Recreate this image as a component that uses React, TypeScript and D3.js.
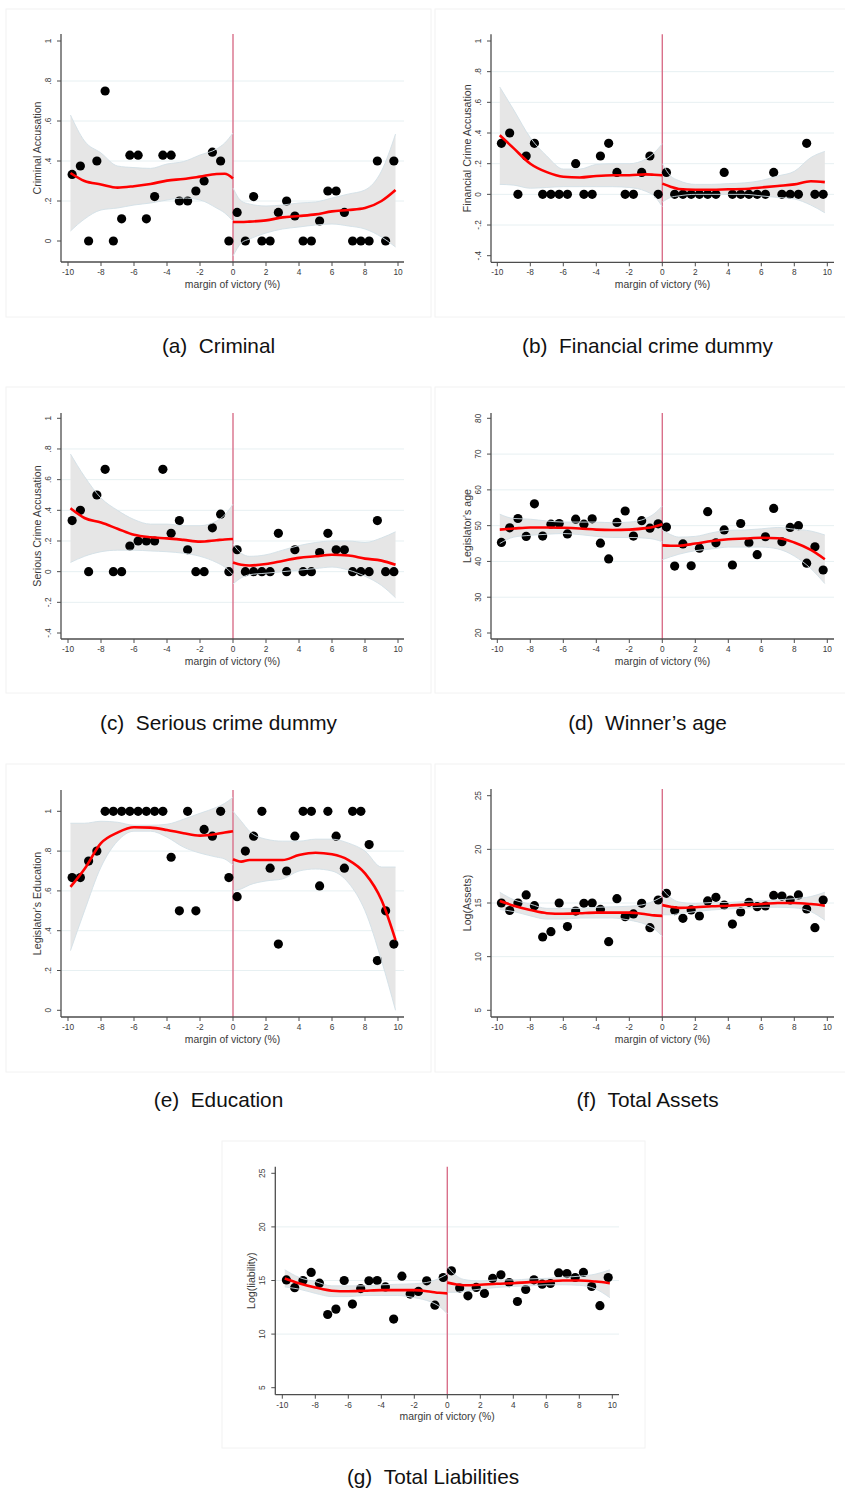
import React from "react";
import * as d3 from "d3";

// ---------- data ----------
const binX = [
  -9.75, -9.25, -8.75, -8.25, -7.75, -7.25, -6.75, -6.25, -5.75, -5.25,
  -4.75, -4.25, -3.75, -3.25, -2.75, -2.25, -1.75, -1.25, -0.75, -0.25,
  0.25, 0.75, 1.25, 1.75, 2.25, 2.75, 3.25, 3.75, 4.25, 4.75,
  5.25, 5.75, 6.25, 6.75, 7.25, 7.75, 8.25, 8.75, 9.25, 9.75,
];
const fitXLeft = [-9.85, -9, -8, -7, -6, -5, -4, -3, -2, -1, -0.5, 0];
const fitXRight = [0, 0.5, 1, 2, 3, 4, 5, 6, 7, 8, 9, 9.85];
const xTicks = [-10, -8, -6, -4, -2, 0, 2, 4, 6, 8, 10];
const xTickLabels = ["-10", "-8", "-6", "-4", "-2", "0", "2", "4", "6", "8", "10"];

// (a) Criminal
const criminalPts = [
  0.333, 0.375, 0, 0.4, 0.75, 0, 0.111, 0.429, 0.429, 0.111,
  0.222, 0.429, 0.429, 0.2, 0.2, 0.25, 0.3, 0.444, 0.4, 0,
  0.143, 0, 0.222, 0, 0, 0.143, 0.2, 0.125, 0, 0,
  0.1, 0.25, 0.25, 0.143, 0, 0, 0, 0.4, 0, 0.4,
];
const criminalFitL = [0.34, 0.3, 0.283, 0.267, 0.274, 0.285, 0.302, 0.31, 0.322, 0.335, 0.336, 0.313];
const criminalHiL = [0.63, 0.5, 0.44, 0.375, 0.367, 0.363, 0.385, 0.397, 0.43, 0.46, 0.49, 0.54];
const criminalLoL = [0.05, 0.11, 0.155, 0.165, 0.18, 0.19, 0.205, 0.215, 0.205, 0.165, 0.14, 0.1];
const criminalFitR = [0.095, 0.095, 0.097, 0.103, 0.118, 0.125, 0.133, 0.148, 0.155, 0.165, 0.2, 0.255];
const criminalHiR = [0.265, 0.2, 0.185, 0.175, 0.18, 0.19, 0.195, 0.215, 0.235, 0.255, 0.35, 0.535];
const criminalLoR = [-0.075, -0.01, 0.01, 0.04, 0.06, 0.07, 0.08, 0.085, 0.075, 0.06, 0.02, -0.03];

// (b) Financial crime
const financialPts = [
  0.333, 0.4, 0, 0.25, 0.333, 0, 0, 0, 0, 0.2,
  0, 0, 0.25, 0.333, 0.143, 0, 0, 0.143, 0.25, 0,
  0.143, 0, 0, 0, 0, 0, 0, 0.143, 0, 0,
  0, 0, 0, 0.143, 0, 0, 0, 0.333, 0, 0,
];
const financialFitL = [0.385, 0.3, 0.2, 0.145, 0.115, 0.11, 0.12, 0.125, 0.125, 0.13, 0.128, 0.125];
const financialHiL = [0.7, 0.55, 0.37, 0.25, 0.165, 0.165, 0.195, 0.2, 0.2, 0.23, 0.27, 0.33];
const financialLoL = [0.065, 0.06, 0.04, 0.045, 0.05, 0.05, 0.05, 0.05, 0.045, 0.02, -0.01, -0.08];
const financialFitR = [0.07, 0.05, 0.035, 0.03, 0.03, 0.033, 0.035, 0.045, 0.055, 0.065, 0.085, 0.08];
const financialHiR = [0.2, 0.12, 0.09, 0.065, 0.065, 0.07, 0.075, 0.09, 0.12, 0.15, 0.24, 0.28];
const financialLoR = [-0.05, -0.02, -0.01, 0, 0, 0, 0, -0.01, -0.02, -0.03, -0.07, -0.12];

// (c) Serious crime
const seriousPts = [
  0.333, 0.4, 0, 0.5, 0.667, 0, 0, 0.167, 0.2, 0.2,
  0.2, 0.667, 0.25, 0.333, 0.143, 0, 0, 0.286, 0.375, 0,
  0.143, 0, 0, 0, 0, 0.25, 0, 0.143, 0, 0,
  0.125, 0.25, 0.143, 0.143, 0, 0, 0, 0.333, 0, 0,
];
const seriousFitL = [0.413, 0.35, 0.32, 0.28, 0.24, 0.224, 0.217, 0.207, 0.196, 0.205, 0.21, 0.213];
const seriousHiL = [0.767, 0.62, 0.48, 0.4, 0.34, 0.31, 0.31, 0.3, 0.3, 0.33, 0.37, 0.44];
const seriousLoL = [0.06, 0.1, 0.13, 0.14, 0.14, 0.135, 0.13, 0.12, 0.1, 0.06, 0.03, -0.02];
const seriousFitR = [0.06, 0.045, 0.04, 0.05, 0.07, 0.09, 0.1, 0.11, 0.105, 0.085, 0.072, 0.045];
const seriousHiR = [0.18, 0.12, 0.1, 0.11, 0.14, 0.17, 0.19, 0.2, 0.2, 0.19, 0.22, 0.26];
const seriousLoR = [-0.08, -0.04, -0.02, -0.01, 0, 0.01, 0.02, 0.03, 0.01, -0.03, -0.09, -0.17];

// (d) Age
const agePts = [
  45.3, 49.4, 52.0, 47.0, 56.1, 47.1, 50.4, 50.6, 47.7, 51.8,
  50.4, 51.9, 45.1, 40.7, 50.9, 54.1, 47.1, 51.4, 49.3, 50.5,
  49.6, 38.7, 44.9, 38.8, 43.7, 53.9, 45.2, 48.8, 39.0, 50.6,
  45.2, 41.9, 46.9, 54.8, 45.5, 49.5, 50.0, 39.5, 44.1, 37.6,
];
const ageFitL = [48.9, 49.2, 49.5, 49.5, 49.4, 49.2, 48.9, 48.8, 48.9, 49.3, 49.7, 50.4];
const ageHiL = [53.2, 52.0, 51.8, 51.3, 51.0, 51.0, 51.0, 50.8, 51.0, 52.0, 53.3, 55.5];
const ageLoL = [45.0, 46.8, 47.3, 47.6, 47.8, 47.5, 47.0, 46.7, 46.7, 46.5, 46.2, 45.5];
const ageFitR = [44.5, 44.4, 44.4, 45.0, 45.7, 46.2, 46.4, 46.6, 46.5, 45.3, 43.2, 40.6];
const ageHiR = [48.7, 47.5, 46.8, 47.0, 48.0, 48.7, 48.8, 49.1, 49.5, 49.0, 48.5, 47.4];
const ageLoR = [40.5, 41.3, 42.0, 43.0, 43.5, 44.0, 44.0, 44.0, 43.5, 41.5, 38.0, 33.8];

// (e) Education
const eduPts = [
  0.667, 0.667, 0.75, 0.8, 1, 1, 1, 1, 1, 1,
  1, 1, 0.769, 0.5, 1, 0.5, 0.909, 0.875, 1, 0.667,
  0.571, 0.8, 0.875, 1, 0.714, 0.333, 0.7, 0.875, 1, 1,
  0.625, 1, 0.875, 0.714, 1, 1, 0.833, 0.25, 0.5, 0.333,
];
const eduFitL = [0.62, 0.71, 0.84, 0.893, 0.92, 0.918, 0.906, 0.89, 0.878, 0.886, 0.893, 0.9];
const eduHiL = [0.94, 0.94, 0.95, 0.945, 0.93, 0.93, 0.935, 0.96, 0.99, 1.02, 1.04, 1.07];
const eduLoL = [0.3, 0.5, 0.72, 0.85, 0.9, 0.9, 0.87, 0.82, 0.79, 0.77, 0.76, 0.73];
const eduFitR = [0.759, 0.747, 0.755, 0.755, 0.755, 0.78, 0.792, 0.784, 0.755, 0.688, 0.554, 0.353];
const eduHiR = [1.0, 0.95, 0.9, 0.86, 0.85, 0.85, 0.86, 0.86, 0.84, 0.8, 0.72, 0.72];
const eduLoR = [0.6, 0.61, 0.63, 0.65, 0.66, 0.7, 0.71, 0.7, 0.64, 0.5, 0.25, 0.0];

// (f) Assets
const assetPts = [
  15.0, 14.3, 15.0, 15.75, 14.75, 11.83, 12.33, 15.0, 12.8, 14.25,
  14.97, 15.0, 14.4, 11.4, 15.4, 13.73, 13.98, 14.97, 12.7, 15.28,
  15.9, 14.29, 13.57, 14.35, 13.79, 15.19, 15.53, 14.81, 13.04, 14.16,
  15.06, 14.66, 14.72, 15.71, 15.65, 15.28, 15.75, 14.44, 12.7, 15.28,
];
const assetFitL = [15.19, 14.75, 14.35, 14.05, 14.0, 14.05, 14.1, 14.1, 14.1, 13.95, 13.85, 13.8];
const assetHiL = [16.0, 15.3, 14.9, 14.5, 14.5, 14.5, 14.6, 14.65, 14.7, 14.9, 15.2, 15.6];
const assetLoL = [14.4, 14.2, 13.8, 13.5, 13.5, 13.6, 13.6, 13.6, 13.4, 13.0, 12.6, 11.9];
const assetFitR = [14.8, 14.65, 14.55, 14.6, 14.7, 14.75, 14.85, 14.9, 15.0, 15.0, 14.9, 14.75];
const assetHiR = [16.3, 15.5, 15.1, 14.95, 15.05, 15.05, 15.15, 15.2, 15.3, 15.4, 15.6, 16.0];
const assetLoR = [13.9, 13.9, 14.0, 14.2, 14.35, 14.45, 14.5, 14.6, 14.6, 14.55, 14.2, 13.4];

// (g) Liabilities
const liabPts = [
  15.05, 14.33, 15.0, 15.75, 14.75, 11.83, 12.33, 15.0, 12.8, 14.25,
  14.97, 15.0, 14.4, 11.4, 15.4, 13.73, 13.98, 14.97, 12.7, 15.28,
  15.9, 14.29, 13.57, 14.35, 13.79, 15.19, 15.53, 14.81, 13.04, 14.16,
  15.06, 14.66, 14.72, 15.71, 15.65, 15.28, 15.75, 14.44, 12.65, 15.28,
];
const liabFitL = [15.19, 14.75, 14.35, 14.05, 14.0, 14.05, 14.1, 14.1, 14.1, 13.95, 13.85, 13.8];
const liabHiL = [16.0, 15.3, 14.9, 14.5, 14.5, 14.5, 14.6, 14.65, 14.7, 14.9, 15.2, 15.6];
const liabLoL = [14.4, 14.2, 13.8, 13.5, 13.5, 13.6, 13.6, 13.6, 13.4, 13.0, 12.6, 11.9];
const liabFitR = [14.8, 14.65, 14.55, 14.6, 14.7, 14.75, 14.85, 14.9, 15.0, 15.0, 14.9, 14.75];
const liabHiR = [16.3, 15.5, 15.1, 14.95, 15.05, 15.05, 15.15, 15.2, 15.3, 15.4, 15.6, 16.0];
const liabLoR = [13.9, 13.9, 14.0, 14.2, 14.35, 14.45, 14.5, 14.6, 14.6, 14.55, 14.2, 13.4];

const ticksProp = [0, 0.2, 0.4, 0.6, 0.8, 1];
const ticksPropLabels = ["0", ".2", ".4", ".6", ".8", "1"];
const ticksPropNeg = [-0.4, -0.2, 0, 0.2, 0.4, 0.6, 0.8, 1];
const ticksPropNegLabels = ["-.4", "-.2", "0", ".2", ".4", ".6", ".8", "1"];
const ticksAge = [20, 30, 40, 50, 60, 70, 80];
const ticksAgeLabels = ["20", "30", "40", "50", "60", "70", "80"];
const ticksLog = [5, 10, 15, 20, 25];
const ticksLogLabels = ["5", "10", "15", "20", "25"];

// ---------- layout ----------
const FONT = "'Liberation Sans', Arial, Helvetica, sans-serif";
const colL = { axisLeft: 61, x0: 68, x1: 398, axisRight: 404 };
const colR = { axisLeft: 491, x0: 497.3, x1: 827.3, axisRight: 834 };
const colG = { axisLeft: 275.3, x0: 282.3, x1: 612.3, axisRight: 619 };

type PanelCfg = {
  col: typeof colL;
  axisTop: number;
  axisBottom: number;
  yLo: [number, number];
  yHi: [number, number];
  ticks: number[];
  tickLabels: string[];
  yTitle: string;
  pts: number[];
  fitL: number[]; hiL: number[]; loL: number[];
  fitR: number[]; hiR: number[]; loR: number[];
  frame: [number, number, number, number];
  caption: string;
  capX: number;
  capY: number;
};

const panels: PanelCfg[] = [
  {
    col: colL, axisTop: 34, axisBottom: 262, yLo: [0, 241], yHi: [1, 41],
    ticks: ticksProp, tickLabels: ticksPropLabels, yTitle: "Criminal Accusation",
    pts: criminalPts, fitL: criminalFitL, hiL: criminalHiL, loL: criminalLoL,
    fitR: criminalFitR, hiR: criminalHiR, loR: criminalLoR,
    frame: [6, 9, 425, 308], caption: "(a)\u00a0\u00a0Criminal", capX: 218.5, capY: 353,
  },
  {
    col: colR, axisTop: 34.3, axisBottom: 262.3, yLo: [-0.4, 255.7], yHi: [1, 41],
    ticks: ticksPropNeg, tickLabels: ticksPropNegLabels, yTitle: "Financial Crime Accusation",
    pts: financialPts, fitL: financialFitL, hiL: financialHiL, loL: financialLoL,
    fitR: financialFitR, hiR: financialHiR, loR: financialLoR,
    frame: [435, 9, 420, 308], caption: "(b)\u00a0\u00a0Financial crime dummy", capX: 647.5, capY: 353,
  },
  {
    col: colL, axisTop: 413, axisBottom: 639, yLo: [-0.4, 633], yHi: [1, 418.3],
    ticks: ticksPropNeg, tickLabels: ticksPropNegLabels, yTitle: "Serious Crime Accusation",
    pts: seriousPts, fitL: seriousFitL, hiL: seriousHiL, loL: seriousLoL,
    fitR: seriousFitR, hiR: seriousHiR, loR: seriousLoR,
    frame: [6, 387, 425, 306], caption: "(c)\u00a0\u00a0Serious crime dummy", capX: 218.5, capY: 730,
  },
  {
    col: colR, axisTop: 413, axisBottom: 639, yLo: [20, 633], yHi: [80, 418.3],
    ticks: ticksAge, tickLabels: ticksAgeLabels, yTitle: "Legislator's age",
    pts: agePts, fitL: ageFitL, hiL: ageHiL, loL: ageLoL,
    fitR: ageFitR, hiR: ageHiR, loR: ageLoR,
    frame: [435, 387, 420, 306], caption: "(d)\u00a0\u00a0Winner\u2019s age", capX: 647.5, capY: 730,
  },
  {
    col: colL, axisTop: 790, axisBottom: 1017, yLo: [0, 1010.3], yHi: [1, 811.3],
    ticks: ticksProp, tickLabels: ticksPropLabels, yTitle: "Legislator's Education",
    pts: eduPts, fitL: eduFitL, hiL: eduHiL, loL: eduLoL,
    fitR: eduFitR, hiR: eduHiR, loR: eduLoR,
    frame: [6, 764, 425, 308], caption: "(e)\u00a0\u00a0Education", capX: 218.5, capY: 1107,
  },
  {
    col: colR, axisTop: 789, axisBottom: 1017, yLo: [5, 1010.3], yHi: [25, 795.7],
    ticks: ticksLog, tickLabels: ticksLogLabels, yTitle: "Log(Assets)",
    pts: assetPts, fitL: assetFitL, hiL: assetHiL, loL: assetLoL,
    fitR: assetFitR, hiR: assetHiR, loR: assetLoR,
    frame: [435, 764, 420, 308], caption: "(f)\u00a0\u00a0Total Assets", capX: 647.5, capY: 1107,
  },
  {
    col: colG, axisTop: 1166.7, axisBottom: 1394.7, yLo: [5, 1387.7], yHi: [25, 1173.3],
    ticks: ticksLog, tickLabels: ticksLogLabels, yTitle: "Log(liability)",
    pts: liabPts, fitL: liabFitL, hiL: liabHiL, loL: liabLoL,
    fitR: liabFitR, hiR: liabHiR, loR: liabLoR,
    frame: [222, 1141, 423, 307], caption: "(g)\u00a0\u00a0Total Liabilities", capX: 433, capY: 1484,
  },
];

type Seg = { x: number; f: number; lo: number; hi: number };

function Panel({ p }: { p: PanelCfg }) {
  const x = d3.scaleLinear().domain([-10, 10]).range([p.col.x0, p.col.x1]);
  const y = d3.scaleLinear().domain([p.yLo[0], p.yHi[0]]).range([p.yLo[1], p.yHi[1]]);
  const segL: Seg[] = fitXLeft.map((v, i) => ({ x: v, f: p.fitL[i], lo: p.loL[i], hi: p.hiL[i] }));
  const segR: Seg[] = fitXRight.map((v, i) => ({ x: v, f: p.fitR[i], lo: p.loR[i], hi: p.hiR[i] }));
  const area = d3
    .area<Seg>()
    .x((d) => x(d.x))
    .y0((d) => y(d.lo))
    .y1((d) => y(d.hi))
    .curve(d3.curveMonotoneX);
  const upper = d3.line<Seg>().x((d) => x(d.x)).y((d) => y(d.hi)).curve(d3.curveMonotoneX);
  const lower = d3.line<Seg>().x((d) => x(d.x)).y((d) => y(d.lo)).curve(d3.curveMonotoneX);
  const fit = d3.line<Seg>().x((d) => x(d.x)).y((d) => y(d.f)).curve(d3.curveMonotoneX);
  const { axisLeft, axisRight } = p.col;
  const gridTicks = p.ticks.slice(1, p.ticks.length - 1);
  const axisColor = "#4d4d4d";
  const textColor = "#3a3a3a";
  return (
    <g>
      <rect x={p.frame[0]} y={p.frame[1]} width={p.frame[2]} height={p.frame[3]} fill="none" stroke="#f2f2f2" strokeWidth={1} />
      {gridTicks.map((t) => (
        <line key={"g" + t} x1={axisLeft} x2={axisRight} y1={y(t)} y2={y(t)} stroke="#e7f0f2" strokeWidth={1} />
      ))}
      {[segL, segR].map((s, i) => (
        <path key={"a" + i} d={area(s) || ""} fill="#e6e6e6" stroke="none" />
      ))}
      <line x1={x(0)} x2={x(0)} y1={p.axisTop} y2={p.axisBottom} stroke="#d9708a" strokeWidth={1.4} />
      {p.pts.map((v, i) => (
        <circle key={"p" + i} cx={x(binX[i])} cy={y(v)} r={4.6} fill="#000" />
      ))}
      {[segL, segR].map((s, i) => (
        <g key={"b" + i}>
          <path d={upper(s) || ""} fill="none" stroke="#d3e0e6" strokeWidth={0.9} />
          <path d={lower(s) || ""} fill="none" stroke="#d3e0e6" strokeWidth={0.9} />
        </g>
      ))}
      {[segL, segR].map((s, i) => (
        <path key={"f" + i} d={fit(s) || ""} fill="none" stroke="#ff0000" strokeWidth={2.6} strokeLinejoin="round" />
      ))}
      {/* axes */}
      <line x1={axisLeft} x2={axisLeft} y1={p.axisTop} y2={p.axisBottom} stroke={axisColor} strokeWidth={1.3} />
      <line x1={axisLeft} x2={axisRight} y1={p.axisBottom} y2={p.axisBottom} stroke={axisColor} strokeWidth={1.3} />
      {p.ticks.map((t, i) => (
        <g key={"yt" + t}>
          <line x1={axisLeft - 4} x2={axisLeft} y1={y(t)} y2={y(t)} stroke={axisColor} strokeWidth={1} />
          <text
            transform={`translate(${axisLeft - 10},${y(t)}) rotate(-90)`}
            textAnchor="middle"
            fontSize={8.3}
            fill={textColor}
            fontFamily={FONT}
          >
            {p.tickLabels[i]}
          </text>
        </g>
      ))}
      {xTicks.map((t, i) => (
        <g key={"xt" + t}>
          <line x1={x(t)} x2={x(t)} y1={p.axisBottom} y2={p.axisBottom + 4} stroke={axisColor} strokeWidth={1} />
          <text x={x(t)} y={p.axisBottom + 13} textAnchor="middle" fontSize={8.3} fill={textColor} fontFamily={FONT}>
            {xTickLabels[i]}
          </text>
        </g>
      ))}
      <text
        x={(axisLeft + axisRight) / 2}
        y={p.axisBottom + 25.5}
        textAnchor="middle"
        fontSize={10.4}
        fill={textColor}
        fontFamily={FONT}
      >
        margin of victory (%)
      </text>
      <text
        transform={`translate(${axisLeft - 20.5},${(p.axisTop + p.axisBottom) / 2}) rotate(-90)`}
        textAnchor="middle"
        fontSize={10.6}
        fill={textColor}
        fontFamily={FONT}
      >
        {p.yTitle}
      </text>
      <text x={p.capX} y={p.capY} textAnchor="middle" fontSize={20.8} fill="#111" fontFamily={FONT}>
        {p.caption}
      </text>
    </g>
  );
}

export default function App() {
  return (
    <svg
      width={845}
      height={1490}
      style={{ position: "absolute", left: 0, top: 0, background: "#fff" }}
    >
      <rect x={0} y={0} width={845} height={1490} fill="#fff" />
      {panels.map((p, i) => (
        <Panel key={i} p={p} />
      ))}
    </svg>
  );
}
